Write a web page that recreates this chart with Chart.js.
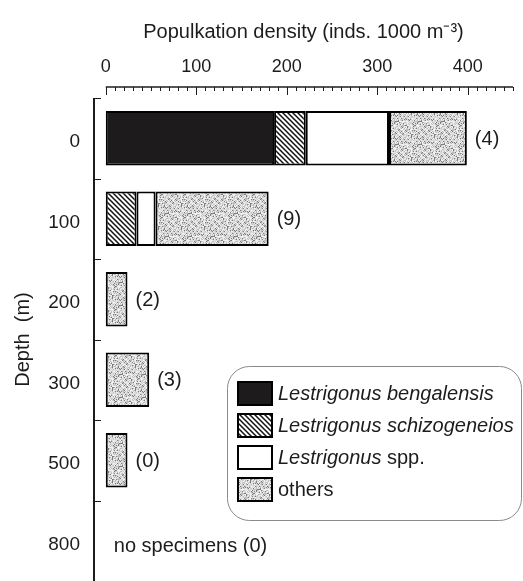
<!DOCTYPE html>
<html>
<head>
<meta charset="utf-8">
<script src="https://cdn.jsdelivr.net/npm/chart.js@4.4.0/dist/chart.umd.min.js"></script>
<style>
html, body { margin: 0; padding: 0; background: #fff; }
</style>
</head>
<body>
<canvas id="densityChart" width="523" height="581"></canvas>
<script>
// depth classes and densities (inds. 1000 m-3)
var depths = ['0', '100', '200', '300', '500', '800'];
var bengalensis = [186, null, null, null, null, null];
var schizogeneios = [35, 34, null, null, null, null];
var sppValues = [92, 21, null, null, null, null];
var others = [86, 125, 24, 48, 24, null];
var sampleCounts = ['(4)', '(9)', '(2)', '(3)', '(0)', 'no specimens (0)'];
var xTicks = [0, 100, 200, 300, 400];

var FONT = '"Liberation Sans", Arial, Helvetica, sans-serif';
var INK = '#1c1c1c';

/**
 *  Fill patterns for the bars
 */
function hatchPattern() {
    var c = document.createElement('canvas');
    var s = 5;
    c.width = s; c.height = s;
    var g = c.getContext('2d');
    g.fillStyle = '#fff';
    g.fillRect(0, 0, s, s);
    g.strokeStyle = '#111';
    g.lineWidth = 1.5;
    g.beginPath();
    g.moveTo(0, 0); g.lineTo(s, s);
    g.moveTo(-1, s - 1); g.lineTo(1, s + 1);
    g.moveTo(s - 1, -1); g.lineTo(s + 1, 1);
    g.stroke();
    return g.createPattern(c, 'repeat');
}

function stipplePattern() {
    var c = document.createElement('canvas');
    var s = 23;
    c.width = s; c.height = s;
    var g = c.getContext('2d');
    var img = g.createImageData(s, s);
    for (var y = 0; y < s; y++) {
        for (var x = 0; x < s; x++) {
            var h = ((x * 73 + y * 151 + x * y * 7) % 29);
            var v = h < 4 ? 125 : (h < 11 ? 190 : (h < 20 ? 218 : 240));
            var p = (y * s + x) * 4;
            img.data[p] = v; img.data[p + 1] = v; img.data[p + 2] = v; img.data[p + 3] = 255;
        }
    }
    g.putImageData(img, 0, 0);
    return g.createPattern(c, 'repeat');
}

var hatch = hatchPattern();
var stipple = stipplePattern();

/**
 *  Axis lines with inward ticks, drawn from the chart's own scales
 */
var axesPlugin = {
    id: 'axesPlugin',
    afterDraw: function(chart) {
        var ctx = chart.ctx;
        var xs = chart.scales.x, ys = chart.scales.y, area = chart.chartArea;
        ctx.save();
        ctx.strokeStyle = INK;
        // top axis
        var ay = area.top - 11;
        ctx.lineWidth = 1.5;
        ctx.beginPath();
        ctx.moveTo(xs.getPixelForValue(0), ay);
        ctx.lineTo(xs.getPixelForValue(450), ay);
        ctx.stroke();
        ctx.lineWidth = 1;
        ctx.beginPath();
        for (var v = 0; v <= 450; v += 10) {
            var px = Math.round(xs.getPixelForValue(v)) + 0.5;
            var len = (v % 100 === 0) ? 8 : 4;
            ctx.moveTo(px, ay);
            ctx.lineTo(px, ay + len);
        }
        ctx.stroke();
        // left axis
        var lx = area.left;
        ctx.lineWidth = 2;
        ctx.beginPath();
        ctx.moveTo(lx, area.top);
        ctx.lineTo(lx, area.bottom);
        ctx.stroke();
        var half = (ys.getPixelForValue(1) - ys.getPixelForValue(0)) / 2;
        ctx.lineWidth = 1;
        ctx.beginPath();
        for (var i = 0; i < depths.length; i++) {
            var py = Math.round(ys.getPixelForValue(i) - half) + 0.5;
            ctx.moveTo(lx, py);
            ctx.lineTo(lx + 7, py);
        }
        ctx.stroke();
        ctx.restore();
    }
};

/**
 *  Number of samples next to each bar
 */
var countPlugin = {
    id: 'countPlugin',
    afterDatasetsDraw: function(chart) {
        var ctx = chart.ctx;
        var xs = chart.scales.x, ys = chart.scales.y;
        ctx.save();
        ctx.font = '20px ' + FONT;
        ctx.fillStyle = INK;
        ctx.textAlign = 'left';
        ctx.textBaseline = 'middle';
        for (var i = 0; i < depths.length; i++) {
            var total = 0;
            chart.data.datasets.forEach(function(ds) { total += ds.data[i] || 0; });
            var dy = total === 0 ? 6 : 1;
            ctx.fillText(sampleCounts[i], xs.getPixelForValue(total) + 8, ys.getPixelForValue(i) + dy);
        }
        ctx.restore();
    }
};

/**
 *  Legend in a rounded box
 */
var legendParts = [
    [['Lestrigonus bengalensis', true]],
    [['Lestrigonus schizogeneios', true]],
    [['Lestrigonus', true], [' spp.', false]],
    [['others', false]]
];
var legendPlugin = {
    id: 'legendPlugin',
    afterDraw: function(chart) {
        var ctx = chart.ctx;
        ctx.save();
        var bx = 227, by = 366, bw = 294, bh = 154, r = 22;
        ctx.strokeStyle = '#8a8a8a';
        ctx.lineWidth = 1;
        ctx.beginPath();
        ctx.roundRect(bx + 0.5, by + 0.5, bw, bh, r);
        ctx.stroke();
        chart.data.datasets.forEach(function(ds, k) {
            var sy = 382 + k * 32;
            ctx.fillStyle = ds.backgroundColor;
            ctx.fillRect(238, sy, 34, 23);
            ctx.strokeStyle = '#000';
            ctx.lineWidth = 2;
            ctx.strokeRect(238, sy, 34, 23);
            var tx = 278;
            ctx.fillStyle = INK;
            ctx.textBaseline = 'middle';
            legendParts[k].forEach(function(part) {
                ctx.font = (part[1] ? 'italic ' : '') + '20px ' + FONT;
                ctx.fillText(part[0], tx, sy + 12);
                tx += ctx.measureText(part[0]).width;
            });
        });
        ctx.restore();
    }
};

var densityChart = new Chart(document.getElementById('densityChart').getContext('2d'), {
    type: 'bar',
    data: {
        labels: depths,
        datasets: [
            { label: 'Lestrigonus bengalensis', data: bengalensis, backgroundColor: '#1e1b1c' },
            { label: 'Lestrigonus schizogeneios', data: schizogeneios, backgroundColor: hatch },
            { label: 'Lestrigonus spp.', data: sppValues, backgroundColor: '#ffffff' },
            { label: 'others', data: others, backgroundColor: stipple }
        ]
    },
    options: {
        indexAxis: 'y',
        responsive: false,
        animation: false,
        layout: { padding: { left: 0, right: 10, top: 0, bottom: 0 } },
        datasets: {
            bar: {
                borderColor: '#000',
                borderWidth: 2,
                borderSkipped: false,
                barPercentage: 0.68,
                categoryPercentage: 1
            }
        },
        plugins: {
            legend: { display: false },
            tooltip: { enabled: false }
        },
        scales: {
            x: {
                type: 'linear',
                position: 'top',
                stacked: true,
                min: -13,
                max: 450,
                afterBuildTicks: function(scale) {
                    scale.ticks = xTicks.map(function(v) { return { value: v }; });
                },
                afterFit: function(scale) { scale.height = 98; },
                grid: { display: false, drawTicks: false },
                border: { display: false },
                ticks: {
                    padding: 20,
                    autoSkip: false,
                    maxRotation: 0,
                    color: INK,
                    font: { family: FONT, size: 18 }
                },
                title: {
                    display: true,
                    text: 'Populkation density (inds. 1000 m\u207B\u00B3)',
                    color: INK,
                    font: { family: FONT, size: 20 },
                    padding: { top: 20, bottom: 0 }
                }
            },
            y: {
                stacked: true,
                afterFit: function(scale) {
                    scale.width = 94;
                    scale.paddingTop = 0;
                    scale.paddingBottom = 0;
                },
                grid: { display: false, drawTicks: false },
                border: { display: false },
                ticks: {
                    padding: 14,
                    labelOffset: 4,
                    color: INK,
                    font: { family: FONT, size: 19 }
                },
                title: {
                    display: true,
                    text: 'Depth  (m)',
                    color: INK,
                    font: { family: FONT, size: 20 },
                    padding: { top: 11, bottom: 0 }
                }
            }
        }
    },
    plugins: [axesPlugin, countPlugin, legendPlugin]
});
</script>
</body>
</html>
